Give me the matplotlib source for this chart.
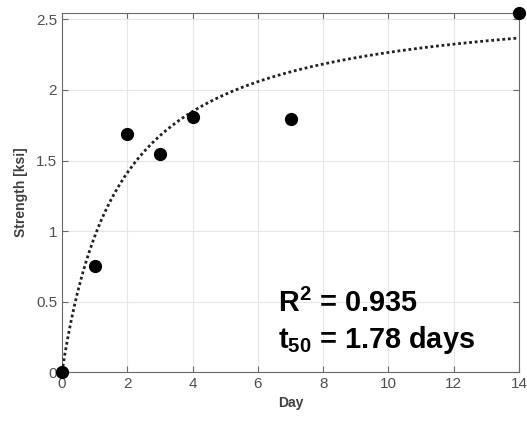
import numpy as np
import matplotlib
matplotlib.use("Agg")
import matplotlib.pyplot as plt

plt.rcParams['mathtext.fontset'] = 'custom'
plt.rcParams['mathtext.bf'] = 'Liberation Sans:bold'
plt.rcParams['mathtext.rm'] = 'Liberation Sans:bold'

day = [0, 1, 2, 3, 4, 7, 14]
strength = [0.0, 0.75, 1.685, 1.545, 1.81, 1.795, 2.545]
s_max = 2.67
t50 = 1.78
r2 = 0.935

fig = plt.figure(figsize=(5.27, 4.24), dpi=100)
ax = fig.add_axes([0.1176, 0.1226, 0.985 - 0.1176, 0.969 - 0.1226])

tt = np.linspace(0, 14, 300)
ax.plot(tt, s_max * tt / (t50 + tt), color='#222222', linestyle=(0, (1, 1)), linewidth=2.0, zorder=3)
ax.plot(day, strength, 'o', color='black', markersize=8.5, clip_on=False, zorder=4)

ax.set_xlim(0, 14)
ax.set_ylim(0, 2.545)
ax.set_xticks([0, 2, 4, 6, 8, 10, 12, 14])
ax.set_yticks([0, 0.5, 1, 1.5, 2, 2.5])
ax.set_yticklabels(['0', '0.5', '1', '1.5', '2', '2.5'])
ax.grid(True, color='#e6e6e6', linewidth=0.8)
ax.set_axisbelow(True)
for s in ax.spines.values():
    s.set_color('#6a6a6a')
    s.set_linewidth(0.8)
ax.tick_params(direction='in', top=True, right=True, length=4, color='#6a6a6a',
               labelcolor='#505050', labelsize=11)
for lab in ax.get_xticklabels() + ax.get_yticklabels():
    lab.set_family('Liberation Sans')

ax.set_xlabel('Day', fontsize=10, fontweight='bold', color='#404040', family='Liberation Sans', labelpad=4)
ax.set_ylabel('Strength [ksi]', fontsize=10, fontweight='bold', color='#404040', family='Liberation Sans', labelpad=6)

ax.text(0.472, 0.167, r'R$^{\mathbf{2}}$ = %.3f' % r2, transform=ax.transAxes, fontsize=20.8,
        fontweight='bold', family='Liberation Sans', color='black')
ax.text(0.472, 0.067, r't$_{\mathbf{50}}$ = %.2f days' % t50, transform=ax.transAxes, fontsize=20.8,
        fontweight='bold', family='Liberation Sans', color='black')

fig.savefig('out.png', dpi=100)
